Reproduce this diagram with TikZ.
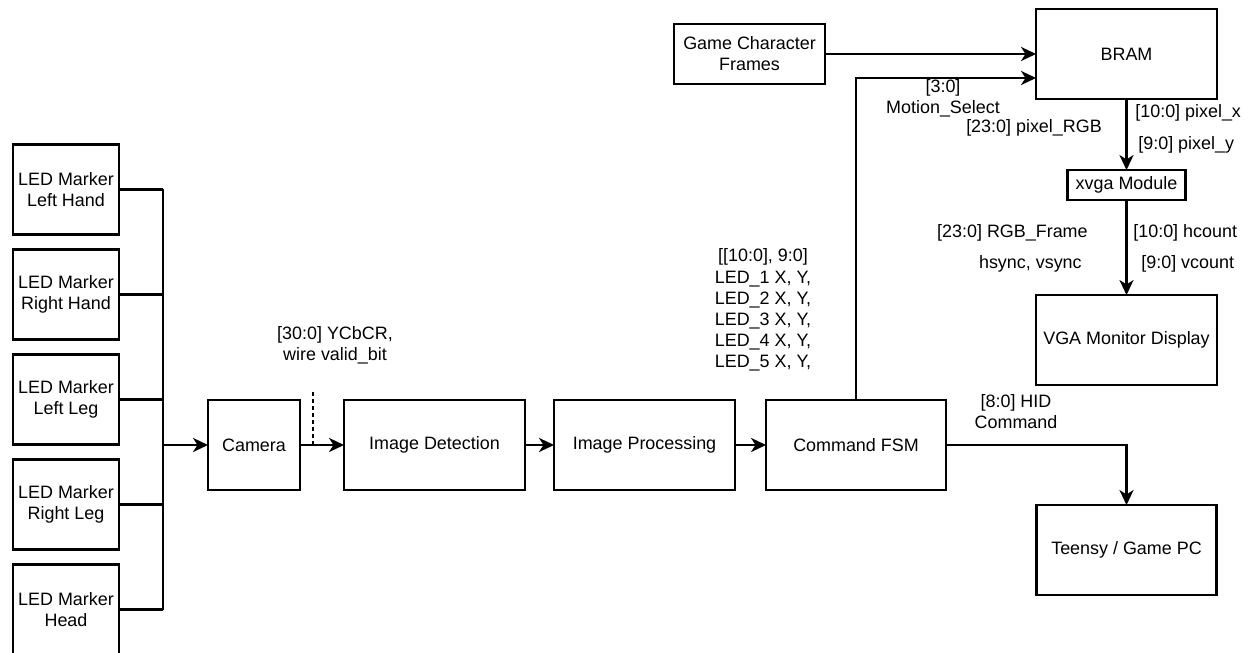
\documentclass[tikz,border=0pt]{standalone}
\usepackage{fontspec}
\setmainfont{Liberation Sans}
\usetikzlibrary{positioning,calc,arrows.meta}

\begin{document}
\begin{tikzpicture}[
		node distance=0.3cm,
		every node/.style={font=\fontsize{10.2}{12}\selectfont},
		blk/.style={draw, line width=1.3pt, inner sep=0pt, outer sep=0pt, align=center, minimum height=1.8cm},
		lbl/.style={inner sep=0pt, align=center},
		wire/.style={line width=1.3pt},
		arr/.style={wire, -{Stealth[length=8.5pt, width=8pt, inset=2.5pt]}},
	]
		\useasboundingbox (0,0) rectangle (25,-13.06);

		\node (led1) [blk, minimum width=2.12cm] at (1.32,-3.79) {LED Marker\\Left Hand};
		\node (led2) [blk, minimum width=2.12cm, below=of led1] {LED Marker\\Right Hand};
		\node (led3) [blk, minimum width=2.12cm, below=of led2] {LED Marker\\Left Leg};
		\node (led4) [blk, minimum width=2.12cm, below=of led3] {LED Marker\\Right Leg};
		\node (led5) [blk, minimum width=2.12cm, below=of led4] {LED Marker\\Head};
		\coordinate (bus) at (3.26,-8.9);

		\node (cam) [blk, minimum width=1.84cm] at (5.08,-8.9) {Camera};
		\node (det) [blk, minimum width=3.62cm, right=0.88cm of cam] {Image Detection};
		\node (proc) [blk, minimum width=3.62cm, right=0.58cm of det] {Image Processing};
		\node (fsm) [blk, minimum width=3.6cm, right=0.62cm of proc] {Command FSM};

		\node (gcf) [blk, minimum width=3.02cm, minimum height=1.2cm] at (14.99,-1.08) {Game Character\\Frames};
		\node (bram) [blk, minimum width=3.62cm] at (22.53,-1.08) {BRAM};
		\node (xvga) [blk, minimum width=2.36cm, minimum height=0.6cm, below=1.42cm of bram] {xvga Module};
		\node (vga) [blk, minimum width=3.62cm, below=1.9cm of xvga] {VGA Monitor Display};
		\node (teensy) [blk, minimum width=3.6cm, below=2.4cm of vga] {Teensy / Game PC};

		% marker bus
		\foreach \i in {1,...,5}
			\draw[wire] (led\i.east) -- (led\i.east -| bus);
		\draw[wire] (led1.east -| bus) -- (led5.east -| bus);
		\draw[arr] (bus) -- (cam.west);

		\draw[arr] (cam) -- (det);
		\coordinate (tap) at ($(cam.east)!0.3!(det.west)$);
		\draw[wire, dash pattern=on 2.3pt off 1.7pt] (tap) -- ++(0,1.12);
		\draw[arr] (det) -- (proc);
		\draw[arr] (proc) -- (fsm);

		\coordinate (msel) at ([yshift=-0.48cm]bram.west);
		\draw[arr] (gcf) -- (bram);
		\draw[arr] (fsm.north) |- (msel);
		\draw[arr] (bram) -- (xvga);
		\draw[arr] (xvga) -- (vga);
		\draw[arr] (fsm.east) -| (teensy.north);

		\node (ycb) [lbl] at (6.7,-6.9) {[30:0] YCbCR,\\wire valid\_bit};
		\node (ledxy) [lbl] at (15.26,-6.2) {[[10:0], 9:0]\\LED\_1 X, Y,\\LED\_2 X, Y,\\LED\_3 X, Y,\\LED\_4 X, Y,\\LED\_5 X, Y,};
		\node (mlbl) [lbl] at (18.86,-1.96) {[3:0]\\Motion\_Select};
		\node (rgb) [lbl] at (20.68,-2.56) {[23:0] pixel\_RGB};
		\node (px) [lbl, anchor=west] at (22.7,-2.26) {[10:0] pixel\_x};
		\node (py) [lbl, anchor=west] at (22.76,-2.9) {[9:0] pixel\_y};
		\node (frm) [lbl, anchor=east] at (21.76,-4.66) {[23:0] RGB\_Frame};
		\node (sync) [lbl, anchor=east] at (21.64,-5.28) {hsync, vsync};
		\node (hc) [lbl, anchor=west] at (22.66,-4.66) {[10:0] hcount};
		\node (vc) [lbl, anchor=west] at (22.82,-5.28) {[9:0] vcount};
		\node (hid) [lbl] at (20.32,-8.24) {[8:0] HID\\Command};
	\end{tikzpicture}
\end{document}
